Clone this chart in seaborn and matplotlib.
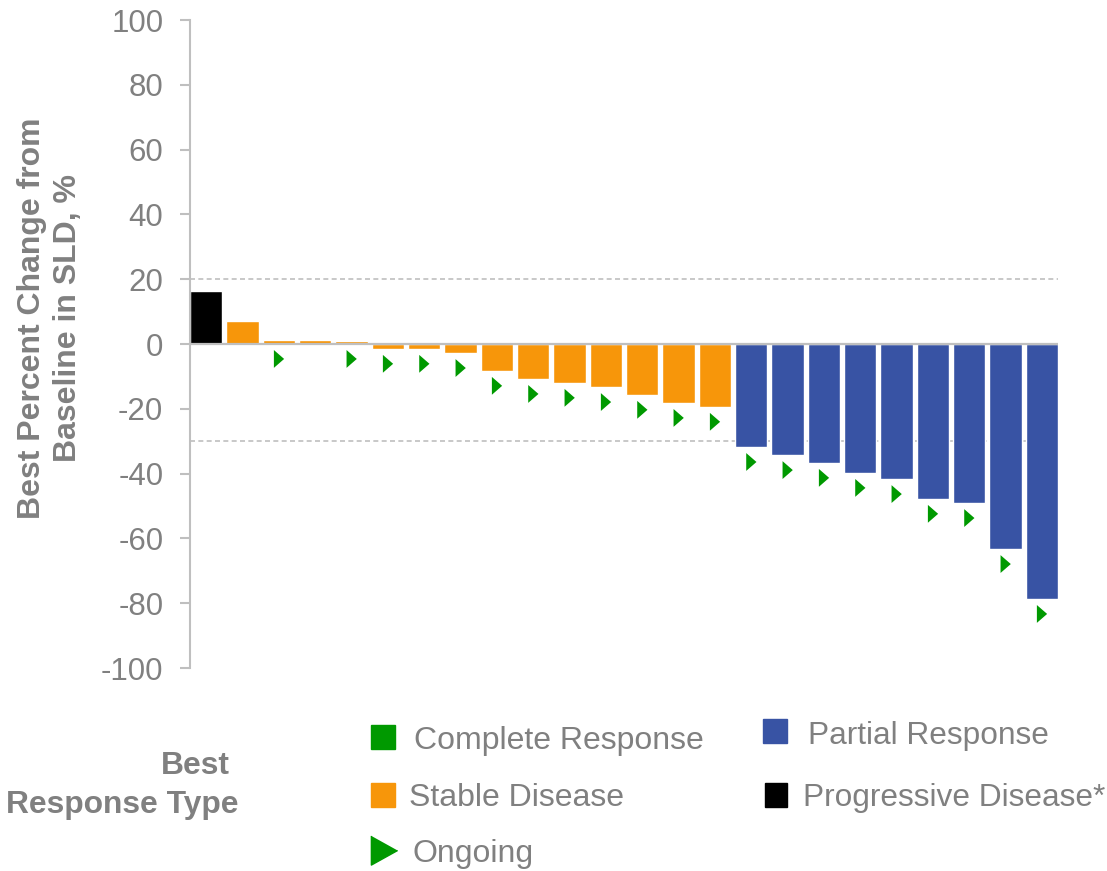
import numpy as np
import pandas as pd
import matplotlib
matplotlib.use('Agg')
import matplotlib.pyplot as plt
import seaborn as sns
from matplotlib.patches import Rectangle
from matplotlib.lines import Line2D

# values (best % change in SLD per patient)
patients = list(range(24))
pct_change = [16.3, 7.0, 1.4, 1.4, 0.8, -1.5, -1.5, -2.8, -8.3, -10.8, -12.0, -13.3,
              -15.7, -18.2, -19.4, -31.8, -34.3, -36.7, -39.8, -41.7, -47.8, -49.1,
              -63.3, -78.7]
response = ['Progressive Disease*'] + ['Stable Disease'] * 14 + ['Partial Response'] * 9
ongoing = [0, 0, 1, 0, 1, 1, 1, 1, 1, 1, 1, 1, 1, 1, 1, 1, 1, 1, 1, 1, 1, 1, 1, 1]

colors = {
    'Complete Response': '#009900',
    'Stable Disease': '#F7960A',
    'Partial Response': '#3853A4',
    'Progressive Disease*': '#000000',
}
GRAY = '#808080'
LINE = '#BFBFBF'

df = pd.DataFrame({'patient': patients, 'pct': pct_change, 'response': response,
                   'ongoing': ongoing})
# ongoing marker sits just below the bar (or below zero for positive bars)
df['mark_y'] = np.minimum(df['pct'], 0) - 4.6
ong = df[df['ongoing'] == 1]

sns.set_style('white')
plt.rcParams['font.family'] = ['Liberation Sans', 'DejaVu Sans']
plt.rcParams['axes.unicode_minus'] = False

fig = plt.figure(figsize=(11.07, 8.71), dpi=100)
ax = fig.add_axes([0.1716, 0.233, 0.9557 - 0.1716, 0.977 - 0.233])

sns.barplot(data=df, x='patient', y='pct', hue='response', palette=colors,
            dodge=False, width=0.89, legend=False, ax=ax, saturation=1)

tri = [(-0.55, 1), (-0.55, -1), (0.6, 0)]
sns.scatterplot(data=ong, x='patient', y='mark_y', marker=tri, s=165,
                color='#009900', edgecolor='none', ax=ax, zorder=5)

ax.axhline(0, color=LINE, lw=1.6, zorder=1)
ax.axhline(20, color=LINE, lw=1.2, ls=(0, (3, 2)), zorder=0)
ax.axhline(-30, color=LINE, lw=1.2, ls=(0, (3, 2)), zorder=0)

ax.set_xlim(-0.445, 23.445)
ax.set_ylim(-100, 100)
ax.set_yticks(range(-100, 101, 20))
ax.set_xticks([])
ax.set_xlabel('')
ax.set_ylabel('')
for s in ['top', 'right', 'bottom']:
    ax.spines[s].set_visible(False)
ax.spines['left'].set_color(LINE)
ax.spines['left'].set_linewidth(1.5)
ax.tick_params(axis='y', direction='out', length=7.2, width=1.5, color=LINE,
               labelcolor=GRAY, labelsize=22.5, pad=12, left=True)

fig.text(50 / 1107, 1 - 318 / 871, 'Best Percent Change from\nBaseline in SLD, %',
         rotation=90, ha='center', va='center', multialignment='center',
         fontsize=23, fontweight='bold', color=GRAY, linespacing=1.25)

# legend drawn by hand underneath the axes
fig.text(230 / 1107, 1 - 766 / 871, 'Best', ha='right', va='center',
         fontsize=22.9, fontweight='bold', color=GRAY)
fig.text(239 / 1107, 1 - 805 / 871, 'Response Type', ha='right', va='center',
         fontsize=22.9, fontweight='bold', color=GRAY)


def square(x0, y0, x1, y1, c):
    fig.add_artist(Rectangle((x0 / 1107, 1 - y1 / 871), (x1 - x0) / 1107,
                             (y1 - y0) / 871, color=c, transform=fig.transFigure))


square(371, 725, 395, 749, colors['Complete Response'])
square(371, 783, 395, 807, colors['Stable Disease'])
square(763, 719, 787, 743, colors['Partial Response'])
square(765, 783, 787, 807, colors['Progressive Disease*'])
fig.add_artist(Line2D([384 / 1107], [1 - 849.5 / 871], marker=[(-0.9, 1), (-0.9, -1), (0.9, 0)],
                      markersize=21, color='#009900', lw=0, transform=fig.transFigure))

legend_items = [
    ('Complete Response', 414, 741, 23),
    ('Stable Disease', 409, 798, 23),
    ('Ongoing', 413, 854, 23),
    ('Partial Response', 808, 736, 22.8),
    ('Progressive Disease*', 803, 798, 22.8),
]
for label, x, y, fs in legend_items:
    fig.text(x / 1107, 1 - y / 871, label, ha='left', va='center',
             fontsize=fs, color=GRAY)

fig.savefig('out.png', dpi=100)
